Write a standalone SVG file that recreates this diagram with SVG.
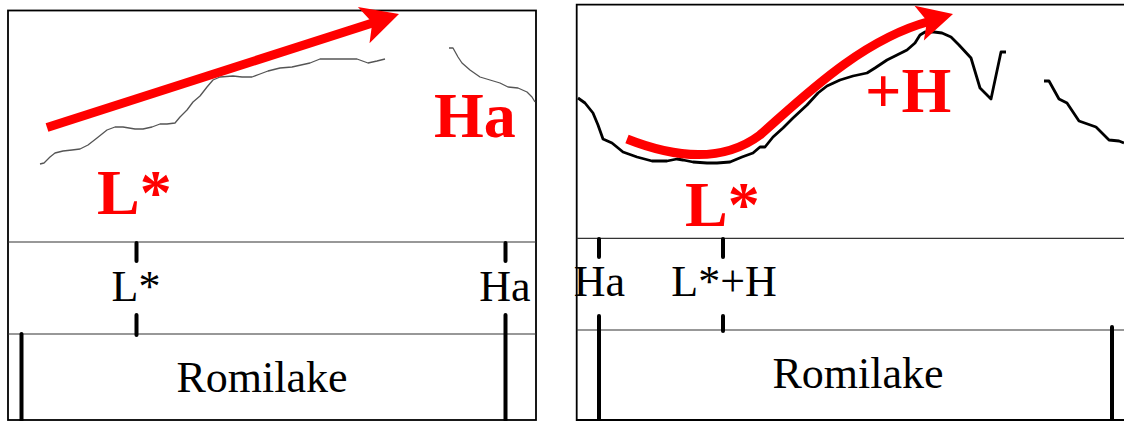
<svg xmlns="http://www.w3.org/2000/svg" width="1124" height="421" viewBox="0 0 1124 421">
<style>
.frame{fill:none;stroke:#000;stroke-width:1.8}
.hline{stroke:#333;stroke-width:1.2}
.tick{stroke:#000;stroke-width:4;stroke-linecap:round}
.lbl{font-family:'Liberation Serif',Tinos,'Times New Roman',Times,'Nimbus Roman','Noto Serif','DejaVu Serif',FreeSerif,serif;font-size:44px;fill:#000}
.red{font-family:'Liberation Serif',Tinos,'Times New Roman',Times,'Nimbus Roman','Noto Serif','DejaVu Serif',FreeSerif,serif;font-size:64px;font-weight:bold;fill:#ff0000}
.f0thin{fill:none;stroke:#555;stroke-width:1.3;stroke-linejoin:round}
.f0{fill:none;stroke:#000;stroke-width:2.8;stroke-linejoin:round}
.arrowline{fill:none;stroke:#ff0000;stroke-width:9}
.head{fill:#ff0000}
</style>
<rect width="1124" height="421" fill="#fff"/>
<g id="panel-left">
  <rect class="frame" x="8" y="10.5" width="528" height="409.5"/>
  <line class="hline" x1="8" y1="242" x2="536" y2="242"/>
  <line class="hline" x1="8" y1="334" x2="536" y2="334"/>
  <polyline class="f0thin" points="40,164 44,163 50,157 55,153 63,151 72,150 80,149 88,145 97,138 107,130 115,127 123,127 135,129 143,129 152,127 160,124 167,124 175,123 180,117 187,110 193,102 200,96 207,87 213,80 220,77 233,76 242,77 252,77 260,74 268,71 280,68 292,67 310,63 320,59 333,59 357,59 368,63 377,61 385,59"/>
  <polyline class="f0thin" points="449,48 453,48 458,57 462,63 470,70 480,77 490,80 500,83 508,87 518,88 527,92 532,97 535,102"/>
  <g id="arrow-left">
    <line class="arrowline" x1="47" y1="127.5" x2="374" y2="22.5"/>
    <polygon class="head" points="399,14 357.9,7.1 372.3,22.5 369.5,43.3"/>
  </g>
  <text class="red" x="97" y="214">L*</text>
  <text class="red" x="434" y="137">Ha</text>
  <line class="tick" x1="136.5" y1="243" x2="136.5" y2="261"/>
  <line class="tick" x1="136.5" y1="315" x2="136.5" y2="335"/>
  <line class="tick" x1="505.5" y1="243" x2="505.5" y2="261"/>
  <line class="tick" x1="505.5" y1="315" x2="505.5" y2="420"/>
  <line class="tick" x1="21.5" y1="334" x2="21.5" y2="420"/>
  <text class="lbl" x="136" y="300.5" text-anchor="middle">L*</text>
  <text class="lbl" x="505" y="300.5" text-anchor="middle">Ha</text>
  <text class="lbl" x="262" y="392" text-anchor="middle">Romilake</text>
</g>
<g id="panel-right">
  <path class="frame" d="M1126,4.7 H576.7 V420 H1126"/>
  <line class="hline" x1="576.7" y1="238.3" x2="1124" y2="238.3"/>
  <line class="hline" x1="576.7" y1="330" x2="1124" y2="330"/>
  <polyline class="f0" points="578,98 585,103 593,113 598,125 603,139 612,143 623,152 637,157 652,161 667,161 677,159 683,160 693,162 707,163 717,163 730,162 742,157 753,153 760,147 765,147 773,137 783,128 793,118 807,105 818,93 827,86 840,80 853,76 867,73 875,68 887,60 897,55 907,50 915,43 920,35 925,32 934,32 942,33 951,37 959,45 971,58 980,88 991,99 1001,52 1006,52"/>
  <polyline class="f0" points="1044,81 1049,81 1059,99 1067,103 1079,121 1096,127 1109,140 1119,141 1124,143"/>
  <g id="arrow-right">
    <path class="arrowline" d="M627,139 C670,156 720,165 760,135 C800,100 860,40 929,21.5"/>
    <polygon class="head" points="953,14 914.5,5.8 927,21.1 923.9,40.6"/>
  </g>
  <text class="red" x="685" y="226">L*</text>
  <text class="red" x="865" y="112">+H</text>
  <line class="tick" x1="599" y1="239" x2="599" y2="257"/>
  <line class="tick" x1="599" y1="316" x2="599" y2="420"/>
  <line class="tick" x1="723" y1="239" x2="723" y2="257"/>
  <line class="tick" x1="723" y1="316" x2="723" y2="331"/>
  <line class="tick" x1="1112" y1="327" x2="1112" y2="420"/>
  <text class="lbl" x="599.5" y="296" text-anchor="middle">Ha</text>
  <text class="lbl" x="724" y="296" text-anchor="middle">L*+H</text>
  <text class="lbl" x="858" y="388" text-anchor="middle">Romilake</text>
</g>
</svg>
